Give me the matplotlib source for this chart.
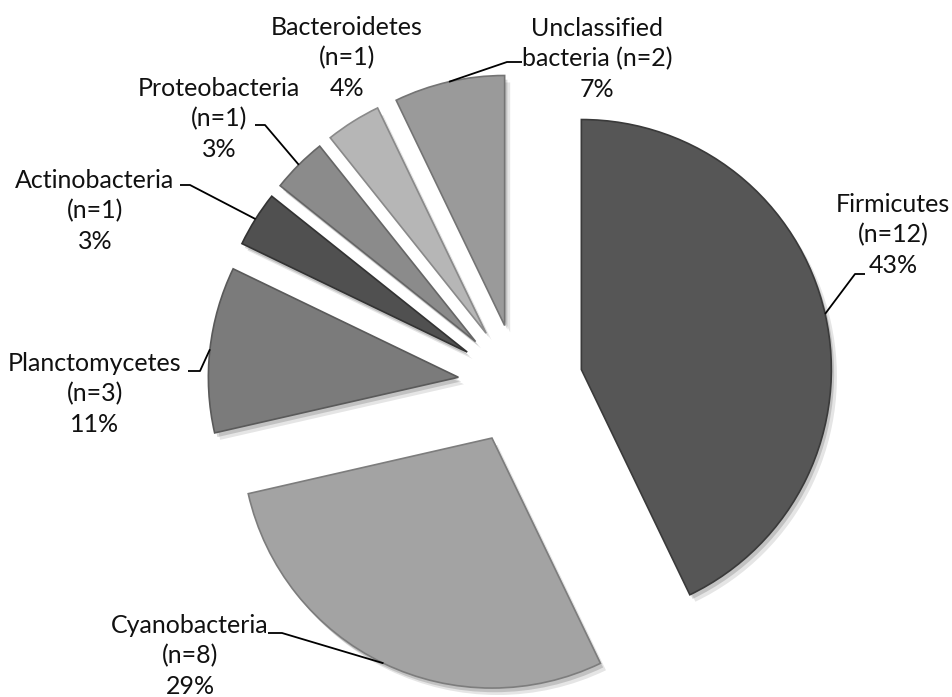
import numpy as np
import matplotlib
matplotlib.use("Agg")
import matplotlib.pyplot as plt
import matplotlib.patheffects as pe

# data
phyla = ["Firmicutes", "Cyanobacteria", "Planctomycetes", "Actinobacteria",
         "Proteobacteria", "Bacteroidetes", "Unclassified\nbacteria"]
counts = [12, 8, 3, 1, 1, 1, 2]
pct_labels = ["43%", "29%", "11%", "3%", "3%", "4%", "7%"]

# styling / layout
colors = ["#565656", "#a3a3a3", "#7b7b7b", "#505050", "#8b8b8b", "#b6b6b6", "#9a9a9a"]
edges = ["#3a3a3a", "#7d7d7d", "#5a5a5a", "#333333", "#666666", "#8a8a8a", "#747474"]
explode_frac = [0.26, 0.24, 0.24, 0.24, 0.24, 0.24, 0.24]
W, H = 953, 697
PIE_CENTER = (518, 384)   # pixels, top-down
PIE_R = 250

# label block centres and leader stubs (pixels, top-down)
label_pos = [(893, 235), (190, 656), (95, 394), (95, 211), (219, 119), (347, 58), (597, 59)]
stubs = [(865, 855, 274), (268, 282, 633), (188, 200, 371), (180, 190, 185),
         (255, 265, 125), None, (522, 507, 62)]


def px(x, y):
    return x, H - y


fig = plt.figure(figsize=(W / 100, H / 100), dpi=100)
ax = fig.add_axes([0, 0, 1, 1])

# pie explode is in data units, so scale by the radius
wedges, _ = ax.pie(counts, colors=colors, explode=[e * PIE_R for e in explode_frac],
                   startangle=90, counterclock=False, radius=PIE_R,
                   center=px(*PIE_CENTER), wedgeprops=dict(linewidth=1.2))
for w, ec in zip(wedges, edges):
    w.set_edgecolor(ec)
    w.set_path_effects([
        pe.SimplePatchShadow(offset=(4, -5), shadow_rgbFace="#000000", alpha=0.10),
        pe.SimplePatchShadow(offset=(2, -3), shadow_rgbFace="#000000", alpha=0.15),
        pe.Normal(),
    ])

ax.set_xlim(0, W)
ax.set_ylim(0, H)
ax.set_aspect("equal")
ax.axis("off")

for i, w in enumerate(wedges):
    name = phyla[i]
    if "\n" in name:
        text = f"{name} (n={counts[i]})\n{pct_labels[i]}"
    else:
        text = f"{name}\n(n={counts[i]})\n{pct_labels[i]}"
    ax.text(*px(*label_pos[i]), text, ha="center", va="center", fontsize=18,
            family="Lato", linespacing=1.4, color="#111111")
    if stubs[i] is None:
        continue
    mid = np.deg2rad((w.theta1 + w.theta2) / 2)
    cx, cy = w.center
    ex, ey = cx + w.r * np.cos(mid), cy + w.r * np.sin(mid)
    sx0, sx1, sy = stubs[i]
    x0, y0 = px(sx0, sy)
    x1, y1 = px(sx1, sy)
    ax.plot([x0, x1, ex], [y0, y1, ey], color="black", lw=1.3, solid_capstyle="butt")

fig.savefig("out.png", dpi=100)
